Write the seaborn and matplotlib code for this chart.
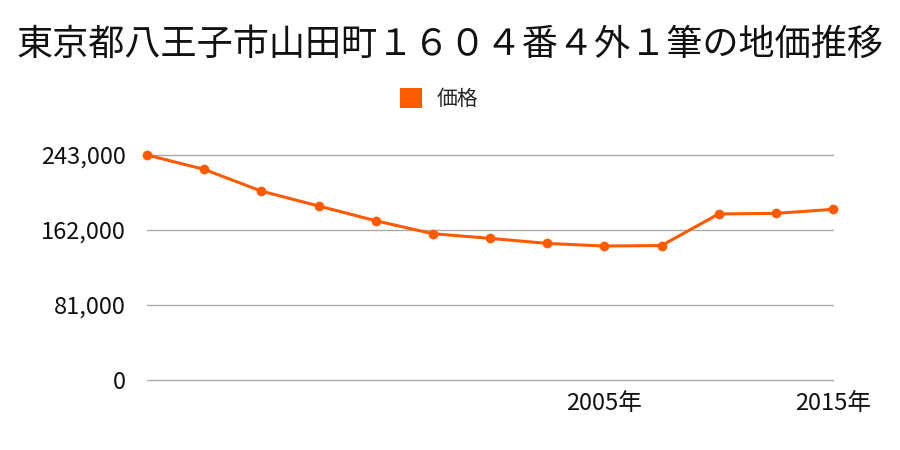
import matplotlib
matplotlib.use("Agg")
import matplotlib.pyplot as plt
import seaborn as sns
import pandas as pd
from matplotlib.patches import Patch

title = "東京都八王子市山田町１６０４番４外１筆の地価推移"
series_name = "価格"
points = list(range(13))
prices = [243000, 227500, 204000, 188000, 172000, 158000, 153000,
          147500, 144700, 145200, 179300, 180000, 184300]
tick_positions = [8, 12]
tick_labels = ["2005年", "2015年"]
y_ticks = [0, 81000, 162000, 243000]

sns.set_theme(style="white")
plt.rcParams['font.family'] = ['Noto Sans CJK JP', 'DejaVu Sans']

color = "#FF5A00"
fig = plt.figure(figsize=(9, 4.5), dpi=100)
ax = fig.add_axes([147/900, 1-380/450, (833-147)/900, 225/450])

for v in y_ticks:
    ax.axhline(v, color="#aaaaaa", linewidth=1, zorder=1, clip_on=False)

df = pd.DataFrame({"x": points, "price": prices})
sns.lineplot(data=df, x="x", y="price", ax=ax, color=color, linewidth=2.2,
             marker="o", markersize=7, markeredgewidth=0, clip_on=False, zorder=3)

ax.set_xlim(0, 12)
ax.set_ylim(0, 243000)
ax.set_yticks(y_ticks)
ax.set_yticklabels([f"{v:,}" for v in y_ticks], fontsize=17, color="#111111")
ax.set_xticks(tick_positions)
ax.set_xticklabels(tick_labels, fontsize=17, color="#111111")
ax.tick_params(axis="y", length=0, pad=15)
ax.tick_params(axis="x", length=0, pad=9)
ax.set_xlabel("")
ax.set_ylabel("")
for s in ax.spines.values():
    s.set_visible(False)
ax.grid(False)

fig.text(0.5, 1-45/450, title, ha="center", va="center", fontsize=26, color="#111111")
handles = [Patch(facecolor=color, edgecolor="none", label=series_name)]
fig.legend(handles=handles, loc="center", bbox_to_anchor=(0.5 - 11/900, 1-99/450), frameon=False,
           fontsize=15, handlelength=1.05, handleheight=1.05, handletextpad=0.7)

fig.savefig("out.png", dpi=100)
